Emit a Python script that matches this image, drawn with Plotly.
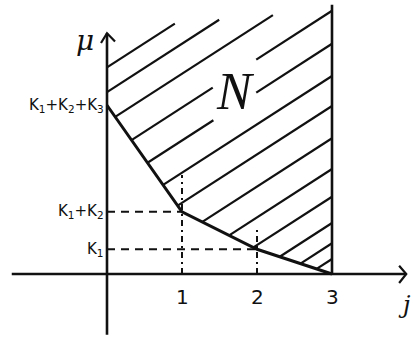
import numpy as np
import plotly.graph_objects as go

# ---- data -------------------------------------------------------------
# lower boundary of the admissible region N: mu(j) = K1 + ... + K_{3-j}
K1, K2, K3 = 0.33, 0.50, 1.42
j_points = [0, 1, 2, 3]
mu_values = [K1 + K2 + K3, K1 + K2, K1, 0.0]

x_tick_vals = [1, 2, 3]
x_tick_text = ["1", "2", "3"]
y_tick_vals = [K1, K1 + K2, K1 + K2 + K3]
y_tick_text = ["K<sub>1</sub>", "K<sub>1</sub>+K<sub>2</sub>",
               "K<sub>1</sub>+K<sub>2</sub>+K<sub>3</sub>"]

# hatching of N: level of each stroke where it meets the line j = 3
hatch_levels = [4.69, 4.36, 3.96, 3.51, 3.07, 2.64, 2.24, 1.81, 1.40,
                1.03, 0.68, 0.41, 0.20]

# ---- drawing constants -----------------------------------------------
INK = "#111111"
HATCH_SLOPE = 0.645
J_MAX = j_points[-1]
X_RANGE = [-107 / 75, 306 / 75]
Y_RANGE = [-66 / 75, 274 / 75]
X_AXIS = (-1.27, 3.99)
Y_AXIS = (-0.81, 3.21)
WALL_TOP = 3.59
TOP_EDGE = (3.26, 0.0867)          # upper end of the hatch strokes
LABEL_BOX = (1.41, 1.99, 2.05, 2.92)  # strokes stop around the "N"


def curve_mu(j):
    return float(np.interp(j, j_points, mu_values))


def hatch_mu(c, j):
    return c + HATCH_SLOPE * (j - J_MAX)


def bisect(f, a, b):
    for _ in range(60):
        m = 0.5 * (a + b)
        if f(a) * f(m) <= 0:
            b = m
        else:
            a = m
    return 0.5 * (a + b)


def hatch_segments(c):
    lo_f = lambda j: hatch_mu(c, j) - curve_mu(j)
    top_f = lambda j: TOP_EDGE[0] + TOP_EDGE[1] * j - hatch_mu(c, j)
    j0 = 0.0 if lo_f(0.0) >= 0 else bisect(lo_f, 0.0, J_MAX)
    j1 = J_MAX if top_f(J_MAX) >= 0 else bisect(top_f, 0.0, J_MAX)
    if j1 <= j0:
        return []
    # cut out the part that would run through the region label
    bx0, bx1, by0, by1 = LABEL_BOX
    ja = max(bx0, (by0 - c) / HATCH_SLOPE + J_MAX)
    jb = min(bx1, (by1 - c) / HATCH_SLOPE + J_MAX)
    if ja < jb and ja < j1 and jb > j0:
        segs = []
        if ja > j0:
            segs.append((j0, ja))
        if jb < j1:
            segs.append((jb, j1))
        return segs
    return [(j0, j1)]


hx, hy = [], []
for c in hatch_levels:
    for a, b in hatch_segments(c):
        hx += [a, b, None]
        hy += [hatch_mu(c, a), hatch_mu(c, b), None]

fig = go.Figure()


def stroke(x, y, width=2.2, dash="solid"):
    fig.add_trace(go.Scatter(x=x, y=y, mode="lines", hoverinfo="skip",
                             line=dict(color=INK, width=width, dash=dash)))


# hatching
stroke(hx, hy, width=2.2)

# axes with open arrow heads
stroke([X_AXIS[0], X_AXIS[1]], [0, 0], width=2.4)
stroke([X_AXIS[1] - 0.095, X_AXIS[1], X_AXIS[1] - 0.095], [0.11, 0, -0.12], width=2.2)
stroke([0, 0], [Y_AXIS[0], Y_AXIS[1]], width=2.6)
stroke([-0.08, 0, 0.107], [Y_AXIS[1] - 0.13, Y_AXIS[1], Y_AXIS[1] - 0.11], width=2.2)

# right wall of N
stroke([J_MAX, J_MAX], [0, WALL_TOP], width=2.6)

# guide lines to the breakpoints
stroke([0, j_points[1]], [mu_values[1]] * 2, width=2.0, dash="8px,6px")
stroke([0, j_points[2]], [mu_values[2]] * 2, width=2.0, dash="8px,6px")
stroke([j_points[1]] * 2, [0, mu_values[1] + 0.49], width=2.0, dash="6px,4px,2px,4px")
stroke([j_points[2]] * 2, [0, mu_values[2] + 0.26], width=2.0, dash="6px,4px,2px,4px")

# boundary curve
stroke(j_points, mu_values, width=3.0)

ann = []
for v, t in zip(x_tick_vals, x_tick_text):
    ann.append(dict(x=v, y=-0.31, text=t, showarrow=False,
                    font=dict(size=20, family="DejaVu Sans", color=INK)))
for v, t in zip(y_tick_vals, y_tick_text):
    ann.append(dict(x=-0.02, y=v, text=t, showarrow=False, xanchor="right",
                    font=dict(size=15, family="DejaVu Sans", color=INK)))
ann += [
    dict(x=-0.29, y=3.12, text="<i>μ</i>", showarrow=False,
         font=dict(size=28, family="DejaVu Serif", color=INK)),
    dict(x=3.96, y=-0.41, text="<i>j</i>", showarrow=False,
         font=dict(size=24, family="DejaVu Serif", color=INK)),
    dict(x=1.71, y=2.43, text="<i>N</i>", showarrow=False,
         font=dict(size=52, family="Liberation Serif", color=INK)),
]

fig.update_layout(
    width=413, height=340, margin=dict(l=0, r=0, t=0, b=0),
    paper_bgcolor="white", plot_bgcolor="white", showlegend=False,
    xaxis=dict(range=X_RANGE, visible=False, fixedrange=True),
    yaxis=dict(range=Y_RANGE, visible=False, fixedrange=True),
    annotations=ann,
)

fig.write_html("out.html")
